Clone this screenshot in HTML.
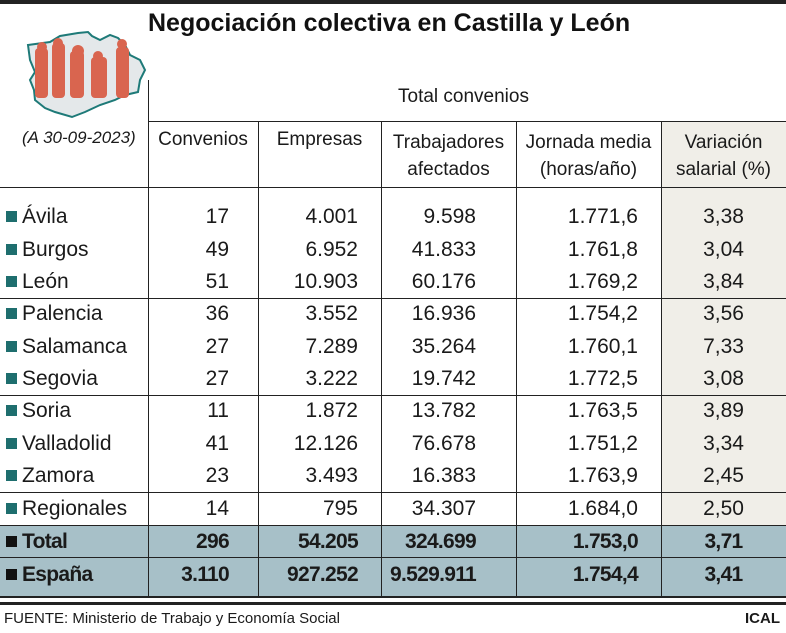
<!DOCTYPE html>
<html><head><meta charset="utf-8"><style>
body{margin:0;background:#fff;}
#c{position:relative;width:786px;height:633px;overflow:hidden;font-family:"Liberation Sans",Arial,sans-serif;color:#1a1a1a;}
.a{position:absolute;white-space:nowrap;}
.h{position:absolute;background:#222;}
.t{font-size:21px;line-height:24px;}
.r{text-align:right;}
.ce{text-align:center;}
.sq{display:inline-block;width:11px;height:11px;background:#1e6e6e;margin-right:5px;vertical-align:1px;}
.b{font-weight:bold;letter-spacing:-0.7px;}
</style></head><body><div id="c">
<div class="h" style="left:0;top:0;width:786px;height:4px"></div>
<div style="position:absolute;left:662px;top:122px;width:124px;height:403px;background:#f0eee8"></div>
<div style="position:absolute;left:0;top:525px;width:786px;height:72px;background:#a7c0c8"></div>
<svg class="a" style="left:0;top:0" width="160" height="125">
<polygon points="28,45 50,42 60,36 78,33 88,32 92,36 100,40 110,35 118,38 125,45 130,55 140,60 145,70 140,80 138,92 125,95 115,100 100,105 85,112 72,117 55,112 45,108 35,100 34,90 30,80 35,72 30,60" fill="#e4e8ea" stroke="#1e7a78" stroke-width="2"/>
<g fill="#d9654f">
<rect x="35" y="48" width="13" height="50" rx="4"/><circle cx="42" cy="47" r="5"/>
<rect x="52" y="43" width="13" height="55" rx="4"/><circle cx="58" cy="43" r="5"/>
<rect x="70" y="51" width="14" height="47" rx="4"/><circle cx="78" cy="51" r="6"/>
<rect x="91" y="57" width="16" height="41" rx="4"/><circle cx="98" cy="56" r="5"/>
<rect x="116" y="47" width="13" height="51" rx="4"/><circle cx="122" cy="44" r="5"/>
</g></svg>
<div class="a b" style="left:148px;top:8px;font-size:25px;line-height:30px;color:#111;letter-spacing:0">Negociación colectiva en Castilla y León</div>
<div class="h" style="left:148px;top:80px;width:1px;height:517px"></div>
<div class="h" style="left:148px;top:121px;width:638px;height:1px"></div>
<div class="h" style="left:0;top:187px;width:786px;height:1px"></div>
<div class="h" style="left:258px;top:121px;width:1px;height:476px"></div>
<div class="h" style="left:381px;top:121px;width:1px;height:476px"></div>
<div class="h" style="left:516px;top:121px;width:1px;height:476px"></div>
<div class="h" style="left:661px;top:121px;width:1px;height:476px"></div>
<div class="h" style="left:0;top:298px;width:786px;height:1px"></div>
<div class="h" style="left:0;top:395px;width:786px;height:1px"></div>
<div class="h" style="left:0;top:492px;width:786px;height:1px"></div>
<div class="h" style="left:0;top:525px;width:786px;height:1px"></div>
<div class="h" style="left:0;top:557px;width:786px;height:1px"></div>
<div class="h" style="left:0;top:596px;width:786px;height:2px"></div>
<div class="h" style="left:0;top:602px;width:786px;height:3px"></div>
<div class="a" style="left:398px;top:86px;font-size:19px">Total convenios</div>
<div class="a" style="left:22px;top:128px;font-size:17px;font-style:italic">(A 30-09-2023)</div>
<div class="a ce" style="left:148px;width:110px;top:129px;font-size:19px">Convenios</div>
<div class="a ce" style="left:258px;width:123px;top:129px;font-size:19px">Empresas</div>
<div class="a ce" style="left:381px;width:135px;top:129px;font-size:19px;line-height:27px">Trabajadores<br>afectados</div>
<div class="a ce" style="left:516px;width:145px;top:129px;font-size:19px;line-height:27px">Jornada media<br>(horas/año)</div>
<div class="a ce" style="left:661px;width:125px;top:129px;font-size:19px;line-height:27px">Variación<br>salarial (%)</div>
<div id="rows"></div>
<div class="a" style="left:4px;top:610px;font-size:15px">FUENTE: Ministerio de Trabajo y Economía Social</div>
<div class="a" style="right:6px;top:610px;font-size:15px;font-weight:bold">ICAL</div>
</div>
<script>
var d=[["Ávila","17","4.001","9.598","1.771,6","3,38"],["Burgos","49","6.952","41.833","1.761,8","3,04"],["León","51","10.903","60.176","1.769,2","3,84"],["Palencia","36","3.552","16.936","1.754,2","3,56"],["Salamanca","27","7.289","35.264","1.760,1","7,33"],["Segovia","27","3.222","19.742","1.772,5","3,08"],["Soria","11","1.872","13.782","1.763,5","3,89"],["Valladolid","41","12.126","76.678","1.751,2","3,34"],["Zamora","23","3.493","16.383","1.763,9","2,45"],["Regionales","14","795","34.307","1.684,0","2,50"],["Total","296","54.205","324.699","1.753,0","3,71"],["España","3.110","927.252","9.529.911","1.754,4","3,41"]];
var ys=[205,238,270,302,335,367,399,432,464,497,530,563],h="";
d.forEach(function(r,i){var y=ys[i],b=i>=10?" b":"",sc=i>=10?"background:#111":"";
h+='<div class="a t'+b+'" style="left:6px;top:'+y+'px"><span class="sq" style="'+sc+'"></span>'+r[0]+'</div>';
h+='<div class="a t r'+b+'" style="left:150px;width:79px;top:'+y+'px">'+r[1]+'</div>';
h+='<div class="a t r'+b+'" style="left:260px;width:98px;top:'+y+'px">'+r[2]+'</div>';
h+='<div class="a t r'+b+'" style="left:383px;width:93px;top:'+y+'px">'+r[3]+'</div>';
h+='<div class="a t r'+b+'" style="left:518px;width:120px;top:'+y+'px">'+r[4]+'</div>';
h+='<div class="a t ce'+b+'" style="left:661px;width:125px;top:'+y+'px">'+r[5]+'</div>';});
document.getElementById("rows").innerHTML=h;
</script>
</body></html>
